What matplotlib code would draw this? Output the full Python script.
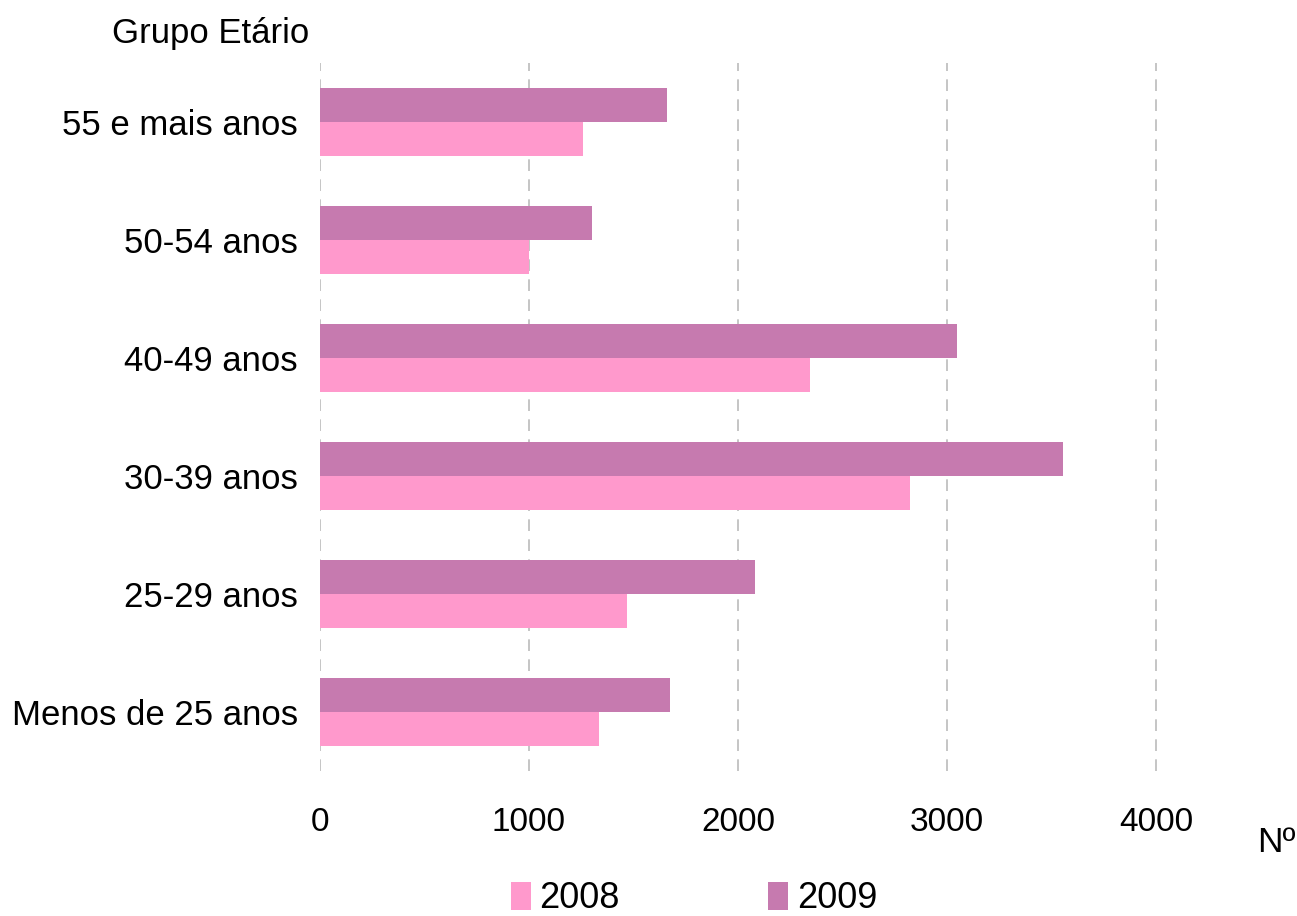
import matplotlib
matplotlib.use("Agg")
import matplotlib.pyplot as plt
from matplotlib import font_manager
import numpy as np

categories = ["Menos de 25 anos", "25-29 anos", "30-39 anos", "40-49 anos", "50-54 anos", "55 e mais anos"]
values_2008 = [1335, 1469, 2823, 2344, 1000, 1258]
values_2009 = [1675, 2081, 3555, 3048, 1301, 1660]
series_labels = ["2008", "2009"]
xticks = [0, 1000, 2000, 3000, 4000]

col_2008 = "#FF99CC"
col_2009 = "#C67AAF"

names = {f.name for f in font_manager.fontManager.ttflist}
narrow = "Liberation Sans Narrow" if "Liberation Sans Narrow" in names else "Liberation Sans"
regular = "Liberation Sans"
plt.rcParams["font.family"] = [regular, "DejaVu Sans"]

W, H = 1297, 916
fig = plt.figure(figsize=(W / 100, H / 100), dpi=100)
ax = fig.add_axes([320 / W, 1 - 771 / H, (1260.5 - 320) / W, (771 - 63) / H])

y = np.arange(len(categories))
h = 0.288
ax.barh(y - h / 2, values_2008, height=h, color=col_2008, label=series_labels[0], zorder=3)
ax.barh(y + h / 2, values_2009, height=h, color=col_2009, label=series_labels[1], zorder=3)

ax.set_xlim(0, 4500)
ax.set_ylim(-0.5, len(categories) - 0.5)
ax.set_yticks(y)
ax.set_yticklabels(categories, fontsize=25, family=[regular, "DejaVu Sans"])
ax.set_xticks(xticks)
ax.set_xticklabels([str(t) for t in xticks], fontsize=24, family=[narrow, "DejaVu Sans"])
ax.tick_params(axis="y", length=0, pad=16)
ax.tick_params(axis="x", length=0, pad=26)
for s in ax.spines.values():
    s.set_visible(False)
ax.xaxis.grid(True, color="#BBBBBB", linestyle=(0, (7, 5)), linewidth=1.2, zorder=0)
ax.yaxis.grid(False)

fig.text(112 / W, 1 - 33 / H, "Grupo Etário", fontsize=25, ha="left", va="center")
fig.text(1257 / W, 1 - 843 / H, "Nº", fontsize=25.5, ha="left", va="center")

leg = fig.legend(handles=ax.get_legend_handles_labels()[0], labels=series_labels,
                 loc="center", bbox_to_anchor=(694 / W, 1 - 899 / H), ncol=2,
                 frameon=False, fontsize=26, handlelength=0.55, handleheight=0.8,
                 handletextpad=0.25, columnspacing=4.1, borderpad=0.1)

fig.savefig("out.png", dpi=100, facecolor="white")
